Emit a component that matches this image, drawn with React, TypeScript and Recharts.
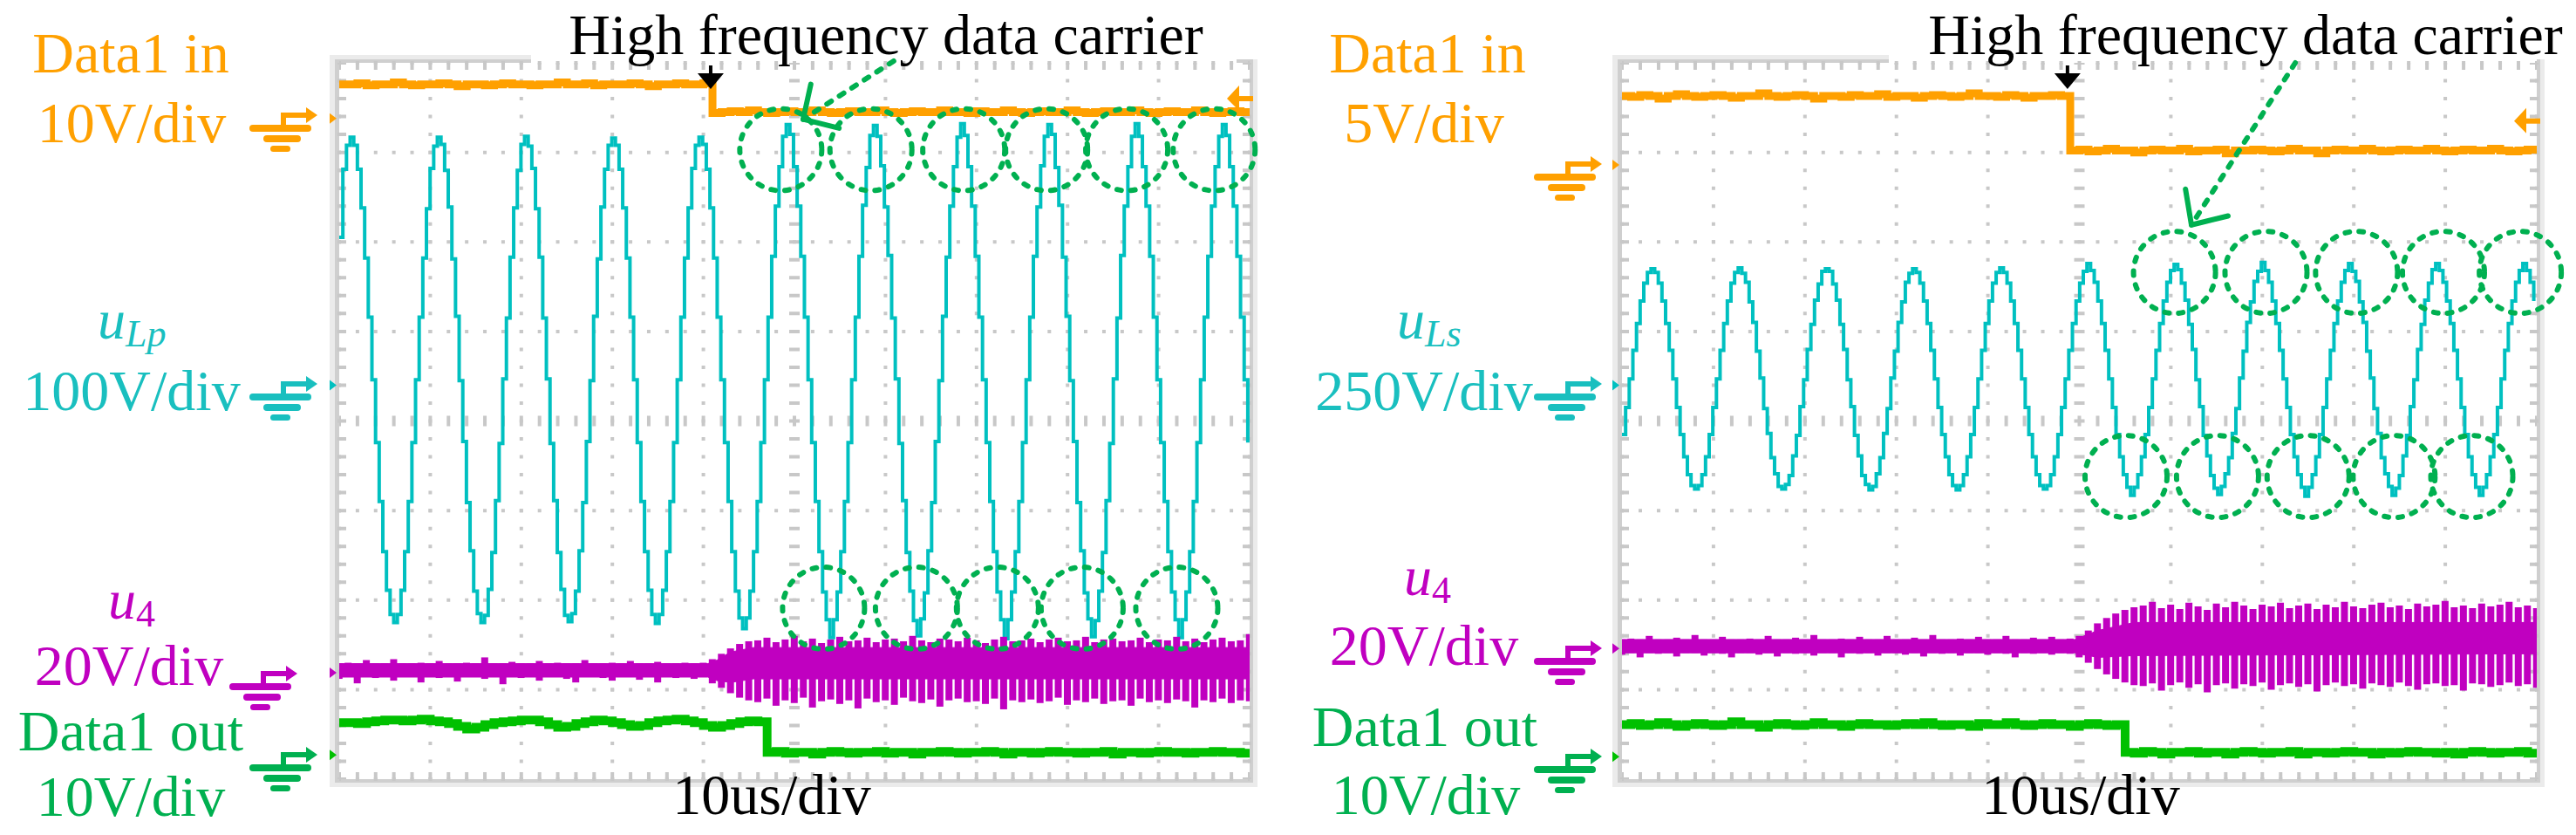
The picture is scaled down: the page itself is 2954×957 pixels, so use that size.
import React from "react";
import {
  Area,
  Bar,
  CartesianGrid,
  ComposedChart,
  Line,
  ReferenceDot,
  ReferenceLine,
  XAxis,
  YAxis,
} from "recharts";

const PAGE_W = 2954;
const PAGE_H = 957;

const ORANGE = "#ffa000";
const TEAL = "#00c0c0";
const TEAL_TXT = "#19bfbf";
const MAGENTA = "#c000c0";
const GREEN_TRACE = "#00c000";
const GREEN = "#00b050";
const GRID = "#c8c8c8";
const DARK = "#cfcfcf";
const LIGHT = "#ebebeb";
const FONT = '"Liberation Serif", "Times New Roman", serif';

// scope screen: x in us (10us/div, 10 div), y in divisions (-4..4)
const gridT = [10, 20, 30, 40, 60, 70, 80, 90];
const gridV = [-3, -2, -1, 1, 2, 3];

// ---- left scope: u_Lp, 24 samples per carrier period
const uLpStep = 0.3992;
const uLp = [
  2.05, 2.81, 3.08, 3.17, 3.08, 2.81, 2.38, 1.82, 1.16, 0.46, -0.24, -0.9, -1.46, -1.89, -2.16, -2.25, -2.16, -1.89, -1.46, -0.9, -0.24, 0.46, 1.16, 1.82,
  2.37, 2.82, 3.07, 3.17, 3.09, 2.8, 2.39, 1.81, 1.17, 0.45, -0.23, -0.91, -1.45, -1.9, -2.15, -2.25, -2.17, -1.88, -1.47, -0.89, -0.25, 0.47, 1.15, 1.83,
  2.38, 2.8, 3.09, 3.18, 3.07, 2.82, 2.37, 1.83, 1.15, 0.47, -0.25, -0.89, -1.47, -1.88, -2.17, -2.24, -2.15, -1.9, -1.45, -0.91, -0.23, 0.45, 1.17, 1.81,
  2.39, 2.81, 3.08, 3.16, 3.08, 2.81, 2.38, 1.82, 1.16, 0.46, -0.24, -0.9, -1.46, -1.89, -2.16, -2.26, -2.16, -1.89, -1.46, -0.9, -0.24, 0.46, 1.16, 1.82,
  2.38, 2.82, 3.08, 3.17, 3.09, 2.81, 2.38, 1.82, 1.16, 0.46, -0.24, -0.9, -1.46, -1.9, -2.2, -2.32, -2.2, -1.9, -1.46, -0.9, -0.24, 0.46, 1.16, 1.84,
  2.4, 2.84, 3.18, 3.31, 3.2, 2.84, 2.4, 1.84, 1.16, 0.46, -0.24, -0.9, -1.46, -1.91, -2.22, -2.42, -2.22, -1.91, -1.46, -0.9, -0.24, 0.46, 1.16, 1.84,
  2.41, 2.83, 3.19, 3.3, 3.18, 2.85, 2.39, 1.85, 1.15, 0.47, -0.25, -0.89, -1.47, -1.9, -2.23, -2.4, -2.21, -1.92, -1.45, -0.91, -0.23, 0.45, 1.17, 1.83,
  2.4, 2.84, 3.17, 3.32, 3.19, 2.84, 2.4, 1.84, 1.16, 0.46, -0.24, -0.9, -1.46, -1.91, -2.22, -2.43, -2.22, -1.91, -1.46, -0.9, -0.24, 0.46, 1.16, 1.84,
  2.39, 2.85, 3.18, 3.31, 3.2, 2.83, 2.41, 1.83, 1.17, 0.45, -0.23, -0.91, -1.45, -1.92, -2.21, -2.41, -2.23, -1.9, -1.47, -0.89, -0.25, 0.47, 1.15, 1.85,
  2.4, 2.84, 3.18, 3.32, 3.18, 2.84, 2.4, 1.84, 1.16, 0.46, -0.24, -0.9, -1.46, -1.91, -2.22, -2.42, -2.22, -1.91, -1.46, -0.9, -0.24, 0.46, 1.16, 1.84,
  2.4, 2.84, 3.18, 3.31, 3.19, 2.84, 2.4, 1.84, 1.16, 0.46, -0.24,
];

// ---- right scope: u_Ls
const uLsStep = 0.3971;
const uLs = [
  -0.15, 0.15, 0.47, 0.79, 1.09, 1.34, 1.54, 1.66,
  1.7, 1.66, 1.54, 1.34, 1.09, 0.79, 0.47, 0.15, -0.15, -0.4, -0.6, -0.72, -0.76, -0.72, -0.6, -0.4, -0.15, 0.15, 0.47, 0.79, 1.09, 1.34, 1.54, 1.66,
  1.71, 1.65, 1.55, 1.33, 1.1, 0.78, 0.48, 0.14, -0.14, -0.41, -0.59, -0.73, -0.76, -0.71, -0.61, -0.39, -0.16, 0.16, 0.46, 0.8, 1.08, 1.35, 1.53, 1.67,
  1.7, 1.67, 1.53, 1.35, 1.08, 0.8, 0.46, 0.16, -0.16, -0.39, -0.61, -0.71, -0.77, -0.73, -0.59, -0.41, -0.14, 0.14, 0.48, 0.78, 1.1, 1.33, 1.55, 1.65,
  1.7, 1.66, 1.54, 1.34, 1.09, 0.79, 0.47, 0.15, -0.15, -0.4, -0.6, -0.72, -0.77, -0.72, -0.6, -0.4, -0.15, 0.15, 0.47, 0.79, 1.09, 1.34, 1.54, 1.66,
  1.71, 1.66, 1.54, 1.34, 1.09, 0.79, 0.47, 0.15, -0.15, -0.4, -0.6, -0.72, -0.76, -0.72, -0.6, -0.4, -0.15, 0.15, 0.47, 0.79, 1.09, 1.34, 1.54, 1.67,
  1.76, 1.68, 1.55, 1.34, 1.09, 0.79, 0.47, 0.15, -0.15, -0.4, -0.6, -0.74, -0.83, -0.74, -0.6, -0.4, -0.15, 0.15, 0.47, 0.79, 1.09, 1.34, 1.55, 1.68,
  1.75, 1.69, 1.54, 1.35, 1.08, 0.8, 0.46, 0.16, -0.16, -0.39, -0.61, -0.75, -0.82, -0.73, -0.59, -0.41, -0.14, 0.14, 0.48, 0.78, 1.1, 1.33, 1.56, 1.67,
  1.77, 1.68, 1.55, 1.34, 1.09, 0.79, 0.47, 0.15, -0.15, -0.4, -0.6, -0.74, -0.84, -0.74, -0.6, -0.4, -0.15, 0.15, 0.47, 0.79, 1.09, 1.34, 1.55, 1.68,
  1.76, 1.67, 1.56, 1.33, 1.1, 0.78, 0.48, 0.14, -0.14, -0.41, -0.59, -0.73, -0.83, -0.75, -0.61, -0.39, -0.16, 0.16, 0.46, 0.8, 1.08, 1.35, 1.54, 1.69,
  1.76, 1.68, 1.55, 1.34, 1.09, 0.79, 0.47, 0.15, -0.15, -0.4, -0.6, -0.74, -0.83, -0.74, -0.6, -0.4, -0.15, 0.15, 0.47, 0.79, 1.09, 1.34, 1.55, 1.68,
  1.76, 1.68, 1.55, 1.34,
];

// slow traces sampled every 1us
const slowTime = Array.from({ length: 101 }, (_, i) => i);

const data1InLeft = [
  3.76, 3.76, 3.77, 3.75, 3.76, 3.76, 3.78, 3.76, 3.75, 3.76,
  3.76, 3.77, 3.76, 3.74, 3.76, 3.76, 3.75, 3.76, 3.77, 3.76,
  3.76, 3.75, 3.76, 3.76, 3.78, 3.76, 3.76, 3.77, 3.75, 3.76,
  3.76, 3.76, 3.77, 3.76, 3.74, 3.76, 3.76, 3.77, 3.76, 3.76,
  3.77,
  3.44, 3.45, 3.46, 3.45, 3.47, 3.45, 3.44, 3.45, 3.46, 3.45,
  3.45, 3.47, 3.45, 3.44, 3.45, 3.46, 3.45, 3.45, 3.47, 3.45,
  3.44, 3.45, 3.46, 3.45, 3.45, 3.47, 3.45, 3.45, 3.44, 3.46,
  3.45, 3.45, 3.47, 3.45, 3.44, 3.45, 3.46, 3.45, 3.45, 3.47,
  3.45, 3.44, 3.45, 3.46, 3.45, 3.45, 3.47, 3.45, 3.44, 3.45,
  3.46, 3.45, 3.45, 3.47, 3.45, 3.44, 3.45, 3.46, 3.45, 3.45,
];

const data1OutLeft = [
  -3.37, -3.37, -3.38, -3.36, -3.35, -3.34, -3.34, -3.35, -3.34, -3.33,
  -3.35, -3.36, -3.38, -3.41, -3.44, -3.42, -3.39, -3.37, -3.36, -3.35,
  -3.34, -3.34, -3.36, -3.39, -3.42, -3.41, -3.38, -3.36, -3.34, -3.35,
  -3.37, -3.39, -3.41, -3.4, -3.37, -3.35, -3.34, -3.33, -3.35, -3.37,
  -3.4, -3.42, -3.4, -3.38, -3.36, -3.35, -3.36,
  -3.7, -3.69, -3.71, -3.7, -3.7, -3.72, -3.7, -3.69, -3.7, -3.71,
  -3.7, -3.7, -3.69, -3.71, -3.7, -3.7, -3.72, -3.7, -3.7, -3.69,
  -3.7, -3.71, -3.7, -3.7, -3.69, -3.7, -3.72, -3.7, -3.7, -3.71,
  -3.7, -3.69, -3.7, -3.7, -3.71, -3.7, -3.7, -3.69, -3.72, -3.7,
  -3.7, -3.71, -3.7, -3.69, -3.7, -3.7, -3.71, -3.7, -3.7, -3.69,
  -3.7, -3.7, -3.71, -3.7,
];

const u4HiLeft = [
  -2.71, -2.7, -2.71, -2.67, -2.71, -2.71, -2.66, -2.71, -2.71, -2.7,
  -2.71, -2.68, -2.71, -2.71, -2.7, -2.71, -2.64, -2.71, -2.71, -2.69,
  -2.71, -2.71, -2.68, -2.71, -2.7, -2.71, -2.71, -2.67, -2.71, -2.71,
  -2.7, -2.71, -2.68, -2.71, -2.71, -2.69, -2.71, -2.71, -2.7, -2.71,
  -2.7,
  -2.66, -2.6, -2.54, -2.49, -2.46,
  -2.45, -2.42, -2.47, -2.44, -2.4, -2.46, -2.43, -2.48, -2.44, -2.41,
  -2.46, -2.45, -2.42, -2.47, -2.44, -2.43, -2.46, -2.4, -2.45, -2.47,
  -2.43, -2.44, -2.46, -2.42, -2.45, -2.48, -2.44, -2.41, -2.46, -2.45,
  -2.43, -2.47, -2.44, -2.42, -2.46, -2.45, -2.41, -2.47, -2.44, -2.43,
  -2.46, -2.45, -2.42, -2.47, -2.44, -2.45, -2.41, -2.46, -2.43, -2.47,
  -2.44, -2.42, -2.46, -2.45, -2.38,
];
const u4LoLeft = [
  -2.88, -2.86, -2.93, -2.86, -2.87, -2.86, -2.9, -2.86, -2.86, -2.92,
  -2.86, -2.87, -2.86, -2.91, -2.86, -2.86, -2.88, -2.86, -2.94, -2.86,
  -2.87, -2.86, -2.9, -2.86, -2.86, -2.88, -2.92, -2.86, -2.86, -2.87,
  -2.9, -2.86, -2.86, -2.89, -2.86, -2.92, -2.86, -2.87, -2.86, -2.88,
  -2.86,
  -2.93, -2.98, -3.04, -3.09, -3.12,
  -3.14, -3.1, -3.18, -3.12, -3.15, -3.09, -3.2, -3.13, -3.11, -3.16,
  -3.12, -3.21, -3.1, -3.14, -3.12, -3.17, -3.09, -3.13, -3.15, -3.11,
  -3.19, -3.12, -3.1, -3.14, -3.13, -3.16, -3.1, -3.22, -3.12, -3.14,
  -3.11, -3.15, -3.13, -3.09, -3.17, -3.12, -3.14, -3.1, -3.16, -3.13,
  -3.12, -3.18, -3.1, -3.14, -3.12, -3.15, -3.11, -3.13, -3.2, -3.12,
  -3.14, -3.1, -3.15, -3.12, -3.13,
];
// solid core of the u4 band
const u4CoreTLeft = [0, 40.5, 41.5, 43, 45.5, 100];
const u4CoreLoLeft = [-2.86, -2.86, -2.9, -2.92, -2.88, -2.88];
const u4CoreHiLeft = [-2.71, -2.71, -2.67, -2.58, -2.53, -2.53];

const data1InRight = [
  3.63, 3.62, 3.64, 3.63, 3.6, 3.63, 3.65, 3.63, 3.62, 3.63,
  3.64, 3.63, 3.61, 3.63, 3.63, 3.66, 3.63, 3.62, 3.63, 3.64,
  3.63, 3.6, 3.63, 3.63, 3.62, 3.64, 3.63, 3.63, 3.65, 3.62,
  3.63, 3.63, 3.61, 3.63, 3.64, 3.63, 3.62, 3.63, 3.66, 3.63,
  3.63, 3.62, 3.64, 3.63, 3.61, 3.63, 3.63, 3.64, 3.63,
  3.02, 3.03, 3.01, 3.02, 3.04, 3.02, 3.02, 3.0, 3.02, 3.03,
  3.02, 3.02, 3.04, 3.01, 3.02, 3.02, 3.03, 2.99, 3.02, 3.02,
  3.03, 3.02, 3.01, 3.02, 3.04, 3.02, 3.02, 2.99, 3.02, 3.03,
  3.02, 3.02, 3.04, 3.02, 3.01, 3.02, 3.03, 3.02, 3.02, 3.04,
  3.02, 3.01, 3.02, 3.03, 3.02, 3.02, 3.04, 3.02, 3.01, 3.02,
  3.03, 3.02,
];

const data1OutRight = [
  -3.39, -3.38, -3.4, -3.39, -3.37, -3.39, -3.41, -3.39, -3.38, -3.39,
  -3.4, -3.39, -3.36, -3.39, -3.39, -3.42, -3.39, -3.38, -3.39, -3.4,
  -3.39, -3.37, -3.39, -3.39, -3.41, -3.39, -3.38, -3.39, -3.39, -3.4,
  -3.39, -3.38, -3.39, -3.37, -3.39, -3.4, -3.39, -3.39, -3.41, -3.38,
  -3.39, -3.39, -3.37, -3.39, -3.4, -3.39, -3.38, -3.39, -3.39, -3.41,
  -3.39, -3.38, -3.39, -3.4, -3.39,
  -3.7, -3.71, -3.69, -3.7, -3.72, -3.7, -3.7, -3.69, -3.71, -3.7,
  -3.7, -3.72, -3.7, -3.69, -3.7, -3.71, -3.7, -3.7, -3.69, -3.72,
  -3.7, -3.7, -3.71, -3.7, -3.69, -3.7, -3.7, -3.72, -3.7, -3.71,
  -3.7, -3.69, -3.7, -3.7, -3.71, -3.7, -3.72, -3.7, -3.69, -3.7,
  -3.71, -3.7, -3.7, -3.69, -3.71, -3.7,
];

const u4HiRight = [
  -2.44, -2.43, -2.44, -2.4, -2.44, -2.44, -2.42, -2.44, -2.39, -2.44,
  -2.44, -2.41, -2.44, -2.44, -2.43, -2.44, -2.4, -2.44, -2.44, -2.42,
  -2.44, -2.39, -2.44, -2.44, -2.43, -2.44, -2.41, -2.44, -2.44, -2.4,
  -2.44, -2.44, -2.42, -2.44, -2.39, -2.44, -2.44, -2.43, -2.44, -2.41,
  -2.44, -2.44, -2.4, -2.44, -2.44, -2.42, -2.44, -2.41, -2.44, -2.43,
  -2.4, -2.34, -2.26, -2.2, -2.15, -2.11, -2.08,
  -2.06, -2.02, -2.09, -2.05, -2.1, -2.03, -2.07, -2.11, -2.04, -2.08,
  -2.02, -2.06, -2.1, -2.05, -2.07, -2.03, -2.09, -2.06, -2.04, -2.1,
  -2.05, -2.08, -2.02, -2.07, -2.09, -2.05, -2.03, -2.08, -2.06, -2.1,
  -2.04, -2.07, -2.05, -2.01, -2.08, -2.06, -2.09, -2.04, -2.07, -2.05,
  -2.02, -2.08, -2.06, -2.09,
];
const u4LoRight = [
  -2.61, -2.59, -2.64, -2.59, -2.6, -2.59, -2.63, -2.59, -2.59, -2.62,
  -2.59, -2.6, -2.64, -2.59, -2.59, -2.61, -2.59, -2.63, -2.59, -2.6,
  -2.59, -2.62, -2.59, -2.59, -2.64, -2.59, -2.6, -2.59, -2.62, -2.59,
  -2.59, -2.61, -2.59, -2.63, -2.59, -2.6, -2.59, -2.62, -2.59, -2.59,
  -2.61, -2.59, -2.6, -2.64, -2.59, -2.6, -2.59, -2.61, -2.59, -2.6,
  -2.64, -2.7, -2.77, -2.83, -2.88, -2.92, -2.95,
  -2.96, -2.93, -3.01, -2.95, -2.92, -2.98, -2.94, -3.03, -2.95, -2.93,
  -2.99, -2.94, -2.96, -2.92, -3.0, -2.95, -2.93, -2.97, -2.94, -3.02,
  -2.95, -2.92, -2.96, -2.94, -2.99, -2.93, -2.95, -2.97, -2.92, -2.96,
  -3.0, -2.94, -2.93, -2.96, -2.95, -3.01, -2.93, -2.94, -2.97, -2.95,
  -2.92, -2.96, -2.94, -2.98,
];
const u4CoreTRight = [0, 49.5, 52, 56, 100];
const u4CoreLoRight = [-2.59, -2.59, -2.64, -2.62, -2.6];
const u4CoreHiRight = [-2.44, -2.44, -2.34, -2.25, -2.25];

// annotation circles (time us, level div)
const circlesTopLeft = [48.5, 58.4, 68.6, 77.7, 86.5, 96.1];
const circlesBottomLeft = [53.2, 63.4, 72.3, 81.6, 92.0];
const circlesTopRight = [60.4, 70.4, 80.3, 89.8, 98.2];
const circlesBottomRight = [55.1, 65.1, 75.0, 84.4, 92.9];

type Box = { x: number; y: number; w: number; h: number };
type Pt = { x: number; y: number };

const leftBox: Box = { x: 389, y: 72, w: 1044, h: 821 };
const rightBox: Box = { x: 1860, y: 72, w: 1049, h: 821 };

const Layer = ({ box, data, children }: { box: Box; data: any[]; children?: React.ReactNode }) => (
  <div style={{ position: "absolute", left: 0, top: 0 }}>
    <ComposedChart
      width={PAGE_W}
      height={PAGE_H}
      data={data}
      margin={{ top: box.y, left: box.x, right: PAGE_W - box.x - box.w, bottom: PAGE_H - box.y - box.h }}
    >
      <XAxis type="number" dataKey="t" domain={[0, 100]} ticks={gridT} hide allowDataOverflow />
      <YAxis type="number" domain={[-4, 4]} ticks={gridV} hide allowDataOverflow />
      {children}
    </ComposedChart>
  </div>
);

const circleShape = (p: any) => (
  <circle cx={p.cx} cy={p.cy} r={47} fill="none" stroke={GREEN} strokeWidth={6} strokeDasharray="5 11" strokeLinecap="round" />
);

const trigShape = (p: any) => (
  <g fill="#000">
    <rect x={p.cx - 2} y={p.cy + 3} width={4} height={14} />
    <polygon points={`${p.cx - 15},${p.cy + 12} ${p.cx + 15},${p.cy + 12} ${p.cx},${p.cy + 30}`} />
  </g>
);

const levelShape = (p: any) => (
  <g fill={ORANGE}>
    <polygon points={`${p.cx - 26},${p.cy} ${p.cx - 12},${p.cy - 15} ${p.cx - 12},${p.cy + 14}`} />
    <rect x={p.cx - 14} y={p.cy - 3} width={18} height={6} />
  </g>
);

const edgeMark = (color: string) => (p: any) => (
  <polygon points={`${p.cx - 11},${p.cy - 6} ${p.cx - 3},${p.cy} ${p.cx - 11},${p.cy + 6}`} fill={color} />
);

type PanelProps = {
  box: Box;
  teal: number[];
  tealStep: number;
  din: number[];
  dout: number[];
  lo: number[];
  hi: number[];
  coreT: number[];
  coreLo: number[];
  coreHi: number[];
  topCircles: number[];
  topY: number;
  bottomCircles: number[];
  bottomY: number;
  arrow: { from: Pt; tip: Pt; arm1: Pt; arm2: Pt };
  trigT: number;
  level: number;
  grounds: number[];
};

const Panel = (props: PanelProps) => {
  const { box } = props;
  const tealRows = props.teal.map((v, i) => ({ t: +(i * props.tealStep).toFixed(4), v }));
  const slowRows = slowTime.map((t, i) => ({ t, din: props.din[i], dout: props.dout[i], u4: [props.lo[i], props.hi[i]] }));
  const coreRows = props.coreT.map((t, i) => ({ t, band: [props.coreLo[i], props.coreHi[i]] }));
  const hDash = `2 ${box.w / 50 - 4} 2 0`;
  const vDash = `2 ${box.h / 40 - 4} 2 0`;
  const tickX = (4 / box.w) * 100;
  const tickY = 4 / (box.h / 8);
  const groundColors = [ORANGE, TEAL, MAGENTA, GREEN_TRACE];
  const seg = { stroke: GREEN, strokeWidth: 6, strokeLinecap: "round" as const, ifOverflow: "visible" as const };
  return (
    <>
      <Layer box={box} data={coreRows}>
        <CartesianGrid vertical={false} stroke={GRID} strokeWidth={4} strokeDasharray={hDash} />
        <CartesianGrid horizontal={false} stroke={GRID} strokeWidth={4} strokeDasharray={vDash} />
        <ReferenceLine x={50} stroke={GRID} strokeWidth={12} strokeDasharray={vDash} />
        <ReferenceLine y={0} stroke={GRID} strokeWidth={12} strokeDasharray={hDash} />
        <ReferenceLine y={4 - tickY} stroke={GRID} strokeWidth={8} strokeDasharray={hDash} />
        <ReferenceLine y={-4 + tickY} stroke={GRID} strokeWidth={8} strokeDasharray={hDash} />
        <ReferenceLine x={tickX} stroke={GRID} strokeWidth={8} strokeDasharray={vDash} />
        <ReferenceLine x={100 - tickX} stroke={GRID} strokeWidth={8} strokeDasharray={vDash} />
      </Layer>
      <Layer box={box} data={tealRows}>
        <Line dataKey="v" type="stepAfter" stroke={TEAL} strokeWidth={4} dot={false} isAnimationActive={false} />
      </Layer>
      <Layer box={box} data={slowRows}>
        <Bar dataKey="u4" fill={MAGENTA} barSize={8} isAnimationActive={false} />
        <Line dataKey="din" type="stepAfter" stroke={ORANGE} strokeWidth={9} dot={false} isAnimationActive={false} />
        <Line dataKey="dout" type="stepAfter" stroke={GREEN_TRACE} strokeWidth={10} dot={false} isAnimationActive={false} />
      </Layer>
      <Layer box={box} data={coreRows}>
        <Area dataKey="band" type="linear" fill={MAGENTA} fillOpacity={1} stroke={MAGENTA} strokeWidth={1} isAnimationActive={false} />
      </Layer>
      <Layer box={box} data={coreRows}>
        {props.topCircles.map((t) => (
          <ReferenceDot key={`t${t}`} x={t} y={props.topY} r={47} ifOverflow="visible" shape={circleShape} />
        ))}
        {props.bottomCircles.map((t) => (
          <ReferenceDot key={`b${t}`} x={t} y={props.bottomY} r={47} ifOverflow="visible" shape={circleShape} />
        ))}
        <ReferenceLine segment={[props.arrow.from, props.arrow.tip]} {...seg} strokeDasharray="6 11" />
        <ReferenceLine segment={[props.arrow.tip, props.arrow.arm1]} {...seg} />
        <ReferenceLine segment={[props.arrow.tip, props.arrow.arm2]} {...seg} />
        <ReferenceDot x={props.trigT} y={4} r={1} ifOverflow="visible" shape={trigShape} />
        <ReferenceDot x={100} y={props.level} r={1} ifOverflow="visible" shape={levelShape} />
        {props.grounds.map((g, i) => (
          <ReferenceDot key={`g${i}`} x={0} y={g} r={1} ifOverflow="visible" shape={edgeMark(groundColors[i])} />
        ))}
      </Layer>
    </>
  );
};

const Frame = ({ b, topEnd, corner }: { b: Box; topEnd: number; corner?: boolean }) => (
  <g>
    <rect x={b.x - 11} y={b.y - 9} width={6} height={b.h + 18} fill={LIGHT} />
    <rect x={b.x - 11} y={b.y - 9} width={topEnd - (b.x - 11)} height={5} fill={LIGHT} />
    <rect x={b.x - 11} y={b.y + b.h + 4} width={b.w + 20} height={5} fill={LIGHT} />
    <rect x={b.x + b.w + 4} y={b.y - 4} width={5} height={b.h + 13} fill={LIGHT} />
    <rect x={b.x - 5} y={b.y - 4} width={5} height={b.h + 8} fill={DARK} />
    <rect x={b.x - 5} y={b.y - 4} width={topEnd - (b.x - 5)} height={4} fill={DARK} />
    <rect x={b.x - 5} y={b.y + b.h} width={b.w + 9} height={4} fill={DARK} />
    <rect x={b.x + b.w} y={b.y - 4} width={4} height={b.h + 8} fill={DARK} />
    {corner && <rect x={b.x + b.w - 15} y={b.y - 4} width={19} height={4} fill={DARK} />}
  </g>
);

const Ground = ({ x, y, c }: { x: number; y: number; c: string }) => (
  <g fill={c} stroke="none">
    <rect x={x - 42} y={y - 3} width={32} height={6} />
    <polygon points={`${x - 13},${y - 9} ${x},${y} ${x - 13},${y + 9}`} />
    <rect x={x - 42} y={y - 3} width={6} height={17} />
    <rect x={x - 78} y={y + 11} width={71} height={8} rx={4} />
    <rect x={x - 62} y={y + 23} width={43} height={8} rx={4} />
    <rect x={x - 54} y={y + 35} width={23} height={7} rx={3.5} />
  </g>
);

const labels = [
  { x: 150, y: 83, c: ORANGE, s: "Data1 in" },
  { x: 151, y: 163, c: ORANGE, s: "10V/div" },
  { x: 151, y: 470, c: TEAL_TXT, s: "100V/div" },
  { x: 148, y: 785, c: MAGENTA, s: "20V/div" },
  { x: 150, y: 860, c: GREEN, s: "Data1 out" },
  { x: 150, y: 935, c: GREEN, s: "10V/div" },
  { x: 885, y: 933, c: "#000", s: "10us/div" },
  { x: 1016, y: 62, c: "#000", s: "High frequency data carrier" },
  { x: 1637, y: 83, c: ORANGE, s: "Data1 in" },
  { x: 1633, y: 163, c: ORANGE, s: "5V/div" },
  { x: 1633, y: 470, c: TEAL_TXT, s: "250V/div" },
  { x: 1633, y: 762, c: MAGENTA, s: "20V/div" },
  { x: 1634, y: 855, c: GREEN, s: "Data1 out" },
  { x: 1635, y: 933, c: GREEN, s: "10V/div" },
  { x: 2386, y: 933, c: "#000", s: "10us/div" },
  { x: 2575, y: 62, c: "#000", s: "High frequency data carrier" },
];

const symbols = [
  { x: 112, y: 388, c: TEAL_TXT, sub: "Lp", italicSub: true },
  { x: 124, y: 709, c: MAGENTA, sub: "4", italicSub: false },
  { x: 1602, y: 388, c: TEAL_TXT, sub: "Ls", italicSub: true },
  { x: 1610, y: 682, c: MAGENTA, sub: "4", italicSub: false },
];

const grounds = [
  { x: 364, y: 132, c: ORANGE },
  { x: 364, y: 440, c: TEAL_TXT },
  { x: 341, y: 772, c: MAGENTA },
  { x: 364, y: 865, c: GREEN },
  { x: 1837, y: 188, c: ORANGE },
  { x: 1837, y: 440, c: TEAL_TXT },
  { x: 1837, y: 743, c: MAGENTA },
  { x: 1837, y: 867, c: GREEN },
];

export default function App() {
  return (
    <div style={{ position: "absolute", left: 0, top: 0, width: PAGE_W, height: PAGE_H, background: "#fff", overflow: "hidden" }}>
      <svg width={PAGE_W} height={PAGE_H} style={{ position: "absolute", left: 0, top: 0 }}>
        <Frame b={leftBox} topEnd={609} corner />
        <Frame b={rightBox} topEnd={2166} />
      </svg>
      <Panel
        box={leftBox}
        teal={uLp}
        tealStep={uLpStep}
        din={data1InLeft}
        dout={data1OutLeft}
        lo={u4LoLeft}
        hi={u4HiLeft}
        coreT={u4CoreTLeft}
        coreLo={u4CoreLoLeft}
        coreHi={u4CoreHiLeft}
        topCircles={circlesTopLeft}
        topY={3.03}
        bottomCircles={circlesBottomLeft}
        bottomY={-2.09}
        arrow={{ from: { x: 60.9, y: 4.02 }, tip: { x: 50.96, y: 3.37 }, arm1: { x: 51.8, y: 3.76 }, arm2: { x: 54.9, y: 3.27 } }}
        trigT={40.8}
        level={3.6}
        grounds={[3.38, 0.4, -2.81, -3.73]}
      />
      <Panel
        box={rightBox}
        teal={uLs}
        tealStep={uLsStep}
        din={data1InRight}
        dout={data1OutRight}
        lo={u4LoRight}
        hi={u4HiRight}
        coreT={u4CoreTRight}
        coreLo={u4CoreLoRight}
        coreHi={u4CoreHiRight}
        topCircles={circlesTopRight}
        topY={1.66}
        bottomCircles={circlesBottomRight}
        bottomY={-0.62}
        arrow={{ from: { x: 73.6, y: 4.0 }, tip: { x: 62.25, y: 2.19 }, arm1: { x: 61.6, y: 2.59 }, arm2: { x: 66.25, y: 2.29 } }}
        trigT={48.7}
        level={3.35}
        grounds={[2.86, 0.4, -2.54, -3.75]}
      />
      <svg width={PAGE_W} height={PAGE_H} style={{ position: "absolute", left: 0, top: 0, pointerEvents: "none" }}>
        <g fontFamily={FONT} fontSize={66}>
          {labels.map((l, i) => (
            <text key={i} x={l.x} y={l.y} fill={l.c} textAnchor="middle">
              {l.s}
            </text>
          ))}
          {symbols.map((s, i) => (
            <text key={`s${i}`} x={s.x} y={s.y} fill={s.c} fontSize={44}>
              <tspan fontStyle="italic" fontSize={64}>u</tspan>
              <tspan fontStyle={s.italicSub ? "italic" : "normal"} fontSize={44} dy={9}>
                {s.sub}
              </tspan>
            </text>
          ))}
        </g>
        {grounds.map((g, i) => (
          <Ground key={i} x={g.x} y={g.y} c={g.c} />
        ))}
      </svg>
    </div>
  );
}
